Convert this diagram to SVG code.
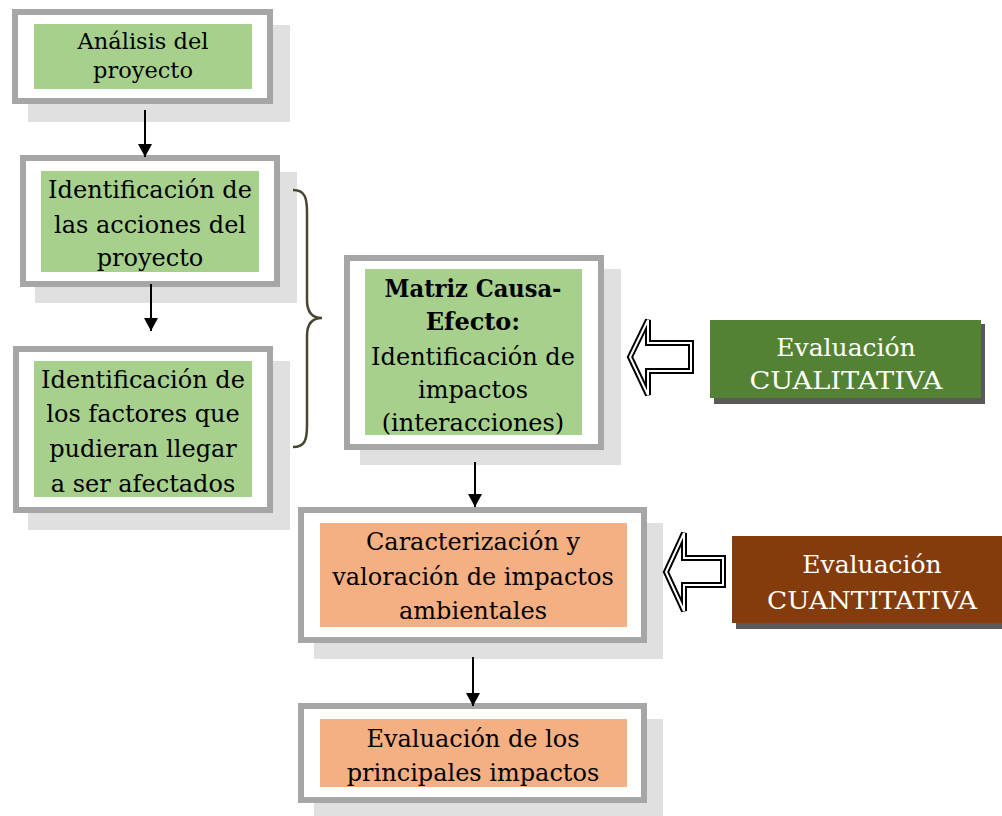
<svg xmlns="http://www.w3.org/2000/svg" width="1002" height="816" viewBox="0 0 1002 816">
  <defs>
    <style>
      .shadow { fill: #e0e0e0; }
      .frame { fill: #ffffff; stroke: #a6a6a6; stroke-width: 6; }
      .green { fill: #a8d08d; }
      .orange { fill: #f4b083; }
      .txt { font-family: "DejaVu Serif", "Liberation Serif", serif; font-size: 24px; fill: #000; text-anchor: middle; }
      .small { font-size: 22.5px; }
      .bold { font-weight: bold; }
      .evtxt { font-family: "DejaVu Serif", "Liberation Serif", serif; font-size: 25px; fill: #ffffff; text-anchor: middle; }
      .conn { stroke: #000; stroke-width: 2; fill: none; }
      .hollow { fill: #ffffff; stroke: #000; stroke-width: 6; stroke-linejoin: miter; }
      .hollow-in { fill: none; stroke: #ffffff; stroke-width: 2; stroke-linejoin: miter; }
    </style>
    <marker id="head" viewBox="0 0 10 10" refX="10" refY="5" markerWidth="13" markerHeight="14" markerUnits="userSpaceOnUse" orient="auto" preserveAspectRatio="none">
      <path d="M0,0 L10,5 L0,10 z" fill="#000"/>
    </marker>
    <clipPath id="matrizClip">
      <rect x="365" y="269" width="217" height="166"/>
    </clipPath>
  </defs>

  <!-- process boxes -->
  <g id="analisis">
    <rect class="shadow" x="28" y="25" width="262" height="97"/>
    <rect class="frame" x="15" y="12" width="255" height="89"/>
    <rect class="green" x="34" y="24" width="218" height="65"/>
    <text class="txt small" x="143" y="49">Análisis del</text>
    <text class="txt small" x="143" y="78">proyecto</text>
  </g>

  <g id="acciones">
    <rect class="shadow" x="35" y="172" width="262" height="131"/>
    <rect class="frame" x="23" y="158" width="254" height="126"/>
    <rect class="green" x="41" y="171" width="218" height="101"/>
    <text class="txt" x="150" y="198">Identificación de</text>
    <text class="txt" x="150" y="233">las acciones del</text>
    <text class="txt" x="150" y="266">proyecto</text>
  </g>

  <g id="factores">
    <rect class="shadow" x="28" y="361" width="262" height="169"/>
    <rect class="frame" x="16" y="349" width="254" height="161"/>
    <rect class="green" x="34" y="361" width="218" height="136"/>
    <text class="txt" x="143" y="388">Identificación de</text>
    <text class="txt" x="143" y="422">los factores que</text>
    <text class="txt" x="143" y="457">pudieran llegar</text>
    <text class="txt" x="143" y="492">a ser afectados</text>
  </g>

  <g id="matriz">
    <rect class="shadow" x="360" y="269" width="261" height="196"/>
    <rect class="frame" x="347" y="258" width="254" height="189"/>
    <rect class="green" x="365" y="269" width="217" height="166"/>
    <g clip-path="url(#matrizClip)">
      <text class="txt bold" x="473" y="297" textLength="177" lengthAdjust="spacingAndGlyphs">Matriz Causa-</text>
      <text class="txt bold" x="473" y="330">Efecto:</text>
      <text class="txt" x="473" y="365">Identificación de</text>
      <text class="txt" x="473" y="398">impactos</text>
      <text class="txt" x="473" y="431">(interacciones)</text>
    </g>
  </g>

  <g id="caracterizacion">
    <rect class="shadow" x="314" y="523" width="349" height="136"/>
    <rect class="frame" x="301" y="510" width="343" height="130"/>
    <rect class="orange" x="320" y="523" width="307" height="104"/>
    <text class="txt" x="473" y="550">Caracterización y</text>
    <text class="txt" x="473" y="585">valoración de impactos</text>
    <text class="txt" x="473" y="619">ambientales</text>
  </g>

  <g id="evaluacion-principales">
    <rect class="shadow" x="314" y="719" width="349" height="97"/>
    <rect class="frame" x="301" y="706" width="343" height="94"/>
    <rect class="orange" x="320" y="719" width="307" height="68"/>
    <text class="txt" x="473" y="747">Evaluación de los</text>
    <text class="txt" x="473" y="781">principales impactos</text>
  </g>

  <!-- evaluation labels -->
  <g id="cualitativa">
    <rect fill="#595959" x="714" y="324" width="271" height="80"/>
    <rect fill="#548235" x="710" y="320" width="271" height="78"/>
    <text class="evtxt" x="846" y="356">Evaluación</text>
    <text class="evtxt" x="846" y="389" textLength="193" lengthAdjust="spacingAndGlyphs">CUALITATIVA</text>
  </g>

  <g id="cuantitativa">
    <rect fill="#595959" x="736" y="541" width="270" height="88"/>
    <rect fill="#843c0c" x="732" y="536" width="270" height="87"/>
    <text class="evtxt" x="872" y="573">Evaluación</text>
    <text class="evtxt" x="872" y="609" textLength="210" lengthAdjust="spacingAndGlyphs">CUANTITATIVA</text>
  </g>

  <!-- connectors -->
  <g id="connectors">
    <line class="conn" x1="145" y1="110" x2="145" y2="157" marker-end="url(#head)"/>
    <line class="conn" x1="151" y1="284" x2="151" y2="331" marker-end="url(#head)"/>
    <line class="conn" x1="475" y1="462" x2="475" y2="507" marker-end="url(#head)"/>
    <line class="conn" x1="473" y1="657" x2="473" y2="706" marker-end="url(#head)"/>
    <!-- brace grouping the two identification steps -->
    <path d="M293,190 C305,190 307,198 307,212 L307,300 C307,312 312,318 322,318 C312,318 307,324 307,336 L307,425 C307,440 305,447 293,447" fill="none" stroke="#4a4530" stroke-width="2.5"/>
    <!-- hollow double-line arrows -->
    <polygon class="hollow" points="630,357 648,320 648,343 691,343 691,371 648,371 648,395"/>
    <polygon class="hollow-in" points="630,357 648,320 648,343 691,343 691,371 648,371 648,395"/>
    <polygon class="hollow" points="666,572 684,533 684,558 723,558 723,585 684,585 684,611"/>
    <polygon class="hollow-in" points="666,572 684,533 684,558 723,558 723,585 684,585 684,611"/>
  </g>
</svg>
